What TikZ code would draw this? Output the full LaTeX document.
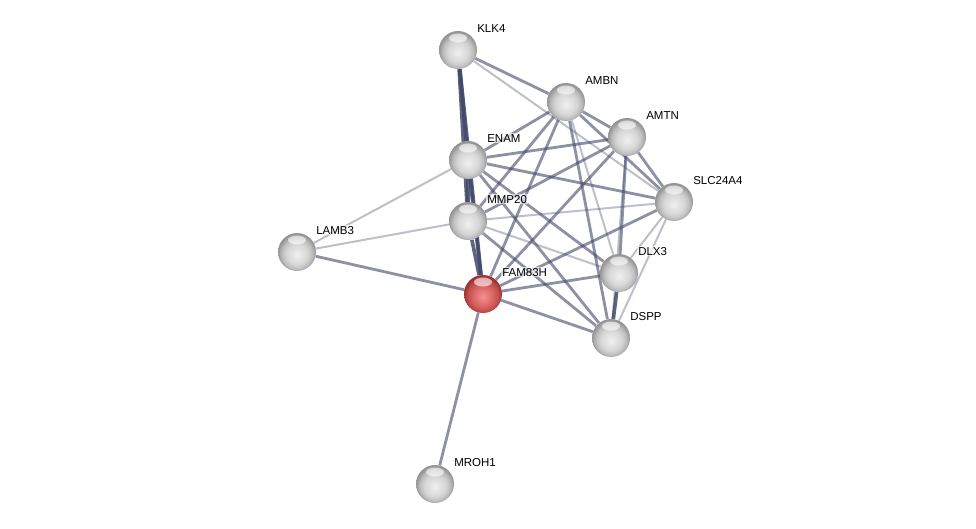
\documentclass[tikz,border=0pt]{standalone}
\usepackage{fontspec}
\setsansfont{Liberation Sans}
\usetikzlibrary{backgrounds}
\definecolor{edgeblue}{RGB}{66,72,104}
\definecolor{ballin}{RGB}{240,240,240}
\definecolor{ballmid}{RGB}{214,214,214}
\definecolor{ballrim}{RGB}{150,150,150}
\definecolor{redin}{RGB}{244,146,146}
\definecolor{redmid}{RGB}{216,98,98}
\definecolor{redrim}{RGB}{160,50,50}
\pgfdeclareradialshading{protball}{\pgfpoint{0bp}{-4bp}}{color(0bp)=(ballin); color(14bp)=(ballmid); color(20bp)=(ballmid!60!ballrim); color(25bp)=(ballrim); color(50bp)=(ballrim)}
\pgfdeclareradialshading{queryball}{\pgfpoint{0bp}{-4bp}}{color(0bp)=(redin); color(14bp)=(redmid); color(20bp)=(redmid!60!redrim); color(25bp)=(redrim); color(50bp)=(redrim)}
\begin{document}
\begin{tikzpicture}[
    x=1pt, y=-1pt,
    prot/.style={circle, minimum size=38pt, inner sep=0pt, shading=protball,
        path picture={\fill[white, opacity=0.6] ([yshift=-7pt]path picture bounding box.north) ellipse (9pt and 4.5pt);}},
    query/.style={prot, shading=queryball},
    lbl/.style={font=\sffamily\fontsize{11.5}{12}\selectfont, inner sep=1pt, fill=white, fill opacity=0.6, text opacity=1, xshift=4.5pt, yshift=3pt, label distance=0pt},
    strong/.style={edgeblue, line width=3.6pt, opacity=0.85},
    mid/.style={edgeblue, line width=2.8pt, opacity=0.6},
    weak/.style={edgeblue, line width=2pt, opacity=0.35},
]
\useasboundingbox (0,0) rectangle (976,529);

\node[prot, label={[lbl]above right:KLK4}] (klk4) at (458,50) {};
\node[prot, label={[lbl]above right:AMBN}] (ambn) at (566,102) {};
\node[prot, label={[lbl]above right:AMTN}] (amtn) at (627,137) {};
\node[prot, label={[lbl]above right:ENAM}] (enam) at (468,160) {};
\node[prot, label={[lbl]above right:SLC24A4}] (slc) at (674,202) {};
\node[prot, label={[lbl]above right:MMP20}] (mmp20) at (468,221) {};
\node[prot, label={[lbl]above right:LAMB3}] (lamb3) at (297,252) {};
\node[prot, label={[lbl]above right:DLX3}] (dlx3) at (619,273) {};
\node[query, label={[lbl]above right:FAM83H}] (fam83h) at (483,294) {};
\node[prot, label={[lbl]above right:DSPP}] (dspp) at (611,338) {};
\node[prot, label={[lbl]above right:MROH1}] (mroh1) at (435,484) {};

\begin{scope}[on background layer]
% KLK4
\draw[strong] (klk4) -- (enam);
\draw[strong] (klk4) -- (mmp20);
\draw[strong] (klk4) -- (fam83h);
\draw[mid] (klk4) -- (ambn);
\draw[weak] (klk4) -- (slc);
% AMBN
\draw[mid] (ambn) -- (amtn);
\draw[mid] (ambn) -- (enam);
\draw[mid] (ambn) -- (mmp20);
\draw[mid] (ambn) -- (fam83h);
\draw[mid] (ambn) -- (dspp);
\draw[weak] (ambn) -- (dlx3);
\draw[mid] (ambn) -- (slc);
% AMTN
\draw[mid] (amtn) -- (enam);
\draw[mid] (amtn) -- (mmp20);
\draw[mid] (amtn) -- (fam83h);
\draw[mid] (amtn) -- (slc);
\draw[mid] (amtn) -- (dlx3);
\draw[weak] (amtn) -- (dspp);
% ENAM
\draw[mid] (enam) -- (slc);
\draw[mid] (enam) -- (dlx3);
\draw[mid] (enam) -- (dspp);
\draw[weak] (enam) -- (lamb3);
\draw[strong] (enam) -- (mmp20);
\draw[strong] (enam) -- (fam83h);
% MMP20
\draw[weak] (mmp20) -- (slc);
\draw[weak] (mmp20) -- (lamb3);
\draw[weak] (mmp20) -- (dlx3);
\draw[mid] (mmp20) -- (dspp);
\draw[strong] (mmp20) -- (fam83h);
% FAM83H
\draw[mid] (fam83h) -- (lamb3);
\draw[mid] (fam83h) -- (mroh1);
\draw[mid] (fam83h) -- (dlx3);
\draw[mid] (fam83h) -- (dspp);
\draw[mid] (fam83h) -- (slc);
% rest
\draw[strong] (dlx3) -- (dspp);
\draw[weak] (dlx3) -- (slc);
\draw[weak] (dspp) -- (slc);
\end{scope}
\end{tikzpicture}
\end{document}
